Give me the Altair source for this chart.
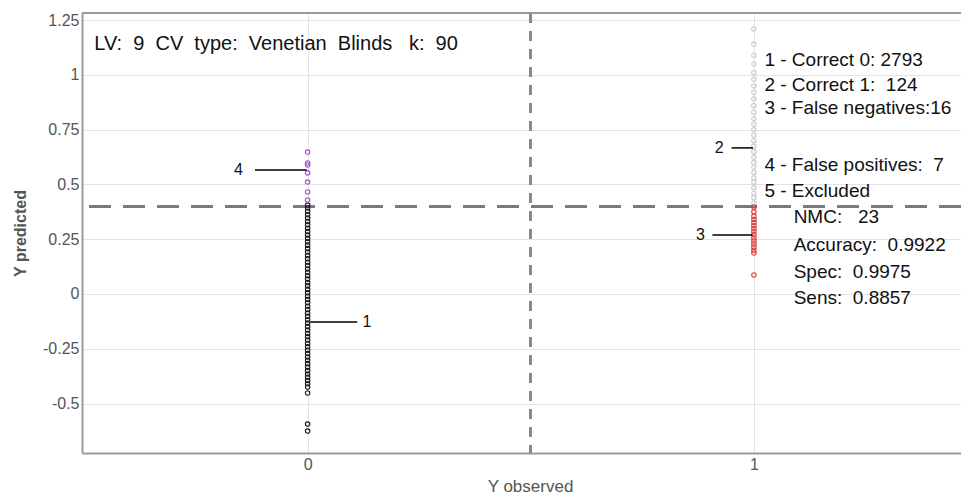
import altair as alt
import pandas as pd

FONT = "Liberation Sans"

# ---- data ----
correct0 = [-0.626, -0.594, -0.452, -0.425, -0.41, -0.395, -0.38, -0.365, -0.35, -0.334, -0.318,
            -0.303, -0.288, -0.272, -0.257, -0.241, -0.226, -0.21, -0.195, -0.18, -0.164, -0.149,
            -0.133, -0.118, -0.102, -0.087, -0.071, -0.056, -0.04, -0.025, -0.01, 0.006, 0.021,
            0.037, 0.052, 0.068, 0.083, 0.099, 0.114, 0.13, 0.145, 0.161, 0.176, 0.192, 0.207,
            0.223, 0.238, 0.254, 0.269, 0.285, 0.3, 0.316, 0.331, 0.347, 0.362, 0.378, 0.393, 0.406]
false_pos = [0.429, 0.466, 0.511, 0.553, 0.589, 0.598, 0.648]
correct1 = [0.415, 0.44, 0.46, 0.485, 0.51, 0.53, 0.555, 0.58, 0.6, 0.625, 0.65, 0.675, 0.7,
            0.725, 0.75, 0.775, 0.8, 0.83, 0.86, 0.89, 0.92, 0.95, 0.98, 1.01, 1.05, 1.09, 1.14, 1.21]
false_neg = [0.087, 0.187, 0.2, 0.214, 0.228, 0.242, 0.256, 0.27, 0.284, 0.298, 0.312, 0.326,
             0.34, 0.355, 0.375, 0.397]

groups = ["Correct 0", "False positives", "Correct 1", "False negatives"]
group_colors = ["#1a1a1a", "#a24fd6", "#cdcdcd", "#e0393a"]
threshold = 0.4
class_split = 0.5
x_ticks = [0, 1]
y_ticks = [-0.5, -0.25, 0, 0.25, 0.5, 0.75, 1, 1.25]
x_domain = [-0.5056, 1.464]
y_domain = [-0.726, 1.283]

header = "LV:\u00a0 9\u00a0 CV\u00a0 type:\u00a0 Venetian\u00a0 Blinds\u00a0\u00a0 k:\u00a0 90"
header_pos = [-0.478, 1.14]

legend_lines = ["1 - Correct 0: 2793", "2 - Correct 1:\u00a0 124", "3 - False negatives:16",
                "4 - False positives:\u00a0 7", "5 - Excluded", "NMC:\u00a0\u00a0 23",
                "Accuracy:\u00a0 0.9922", "Spec:\u00a0 0.9975", "Sens:\u00a0 0.8857"]
legend_x = [1.0235, 1.0235, 1.0235, 1.0235, 1.0235, 1.089, 1.089, 1.089, 1.089]
legend_y = [1.068, 0.954, 0.849, 0.589, 0.470, 0.352, 0.224, 0.100, -0.018]

ann_labels = ["4", "1", "2", "3"]
ann_label_x = [-0.155, 0.133, 0.922, 0.88]
ann_x1 = [-0.118, 0.006, 0.95, 0.907]
ann_x2 = [-0.002, 0.111, 0.998, 0.997]
ann_y = [0.566, -0.128, 0.667, 0.269]

# ---- tables ----
rows = []
for g, obs, vals in [("Correct 0", 0, correct0), ("False positives", 0, false_pos),
                     ("Correct 1", 1, correct1), ("False negatives", 1, false_neg)]:
    for v in vals:
        rows.append({"obs": obs, "pred": v, "grp": g})
pts_df = pd.DataFrame(rows)
leg_df = pd.DataFrame({"x": legend_x, "y": legend_y, "t": legend_lines})
ann_df = pd.DataFrame({"lab": ann_labels, "lx": ann_label_x, "x1": ann_x1, "x2": ann_x2, "y": ann_y})
hdr_df = pd.DataFrame({"x": [header_pos[0]], "y": [header_pos[1]], "t": [header]})

xs = alt.Scale(domain=x_domain, nice=False, zero=False)
ys = alt.Scale(domain=y_domain, nice=False, zero=False)

x_axis = alt.Axis(values=x_ticks, title="Y observed", grid=True, gridColor="#e4e4e4",
                  domainColor="#9a9a9a", domainWidth=2, tickSize=0, labelPadding=3,
                  labelFontSize=16, labelColor="#555555", labelFont=FONT,
                  titleFont=FONT, titleFontSize=17, titleFontWeight="normal", titleColor="#555555",
                  titlePadding=6, titleX=448, labelExpr="'' + datum.value")
y_axis = alt.Axis(values=y_ticks, title="Y predicted", grid=True, gridColor="#e4e4e4",
                  domainColor="#9a9a9a", domainWidth=2, tickSize=0, labelPadding=3,
                  labelFontSize=16, labelColor="#555555", labelFont=FONT,
                  titleFont=FONT, titleFontSize=16, titleFontWeight="bold", titleColor="#555555",
                  titlePadding=14, labelExpr="'' + datum.value")

points = alt.Chart(pts_df).mark_point(filled=False, size=20, strokeWidth=1.1, opacity=1).encode(
    x=alt.X("obs:Q", scale=xs, axis=x_axis),
    y=alt.Y("pred:Q", scale=ys, axis=y_axis),
    color=alt.Color("grp:N", scale=alt.Scale(domain=groups, range=group_colors), legend=None),
)

thr = alt.Chart(pts_df).mark_rule(color="#7a7a7a", strokeWidth=3, strokeDash=[22, 12]).encode(
    y=alt.datum(threshold, scale=ys))
split = alt.Chart(pts_df).mark_rule(color="#8a8a8a", strokeWidth=2, strokeDash=[10, 8]).encode(
    x=alt.datum(class_split, scale=xs))
top = alt.Chart(pts_df).mark_rule(color="#9a9a9a", strokeWidth=2).encode(
    y=alt.datum(y_domain[1], scale=ys))

ann_rules = alt.Chart(ann_df).mark_rule(color="#000000", strokeWidth=1.5).encode(
    x=alt.X("x1:Q", scale=xs), x2="x2:Q", y=alt.Y("y:Q", scale=ys))
ann_text = alt.Chart(ann_df).mark_text(font=FONT, fontSize=16, color="#111111", align="center",
                                       baseline="middle").encode(
    x=alt.X("lx:Q", scale=xs), y=alt.Y("y:Q", scale=ys), text="lab:N")

leg_text = alt.Chart(leg_df).mark_text(font=FONT, fontSize=19, color="#111111", align="left",
                                       baseline="middle").encode(
    x=alt.X("x:Q", scale=xs), y=alt.Y("y:Q", scale=ys), text="t:N")
hdr_text = alt.Chart(hdr_df).mark_text(font=FONT, fontSize=20, color="#111111", align="left",
                                       baseline="middle").encode(
    x=alt.X("x:Q", scale=xs), y=alt.Y("y:Q", scale=ys), text="t:N")

chart = alt.layer(split, thr, top, points, ann_rules, ann_text, leg_text, hdr_text).properties(
    width=879, height=440,
    autosize=alt.AutoSizeParams(type="none"),
    padding={"left": 74, "top": 5, "right": 0, "bottom": 42},
    background="white",
).configure_view(stroke=None)

chart.save("out.html", embed_options={"renderer": "svg", "actions": False})
